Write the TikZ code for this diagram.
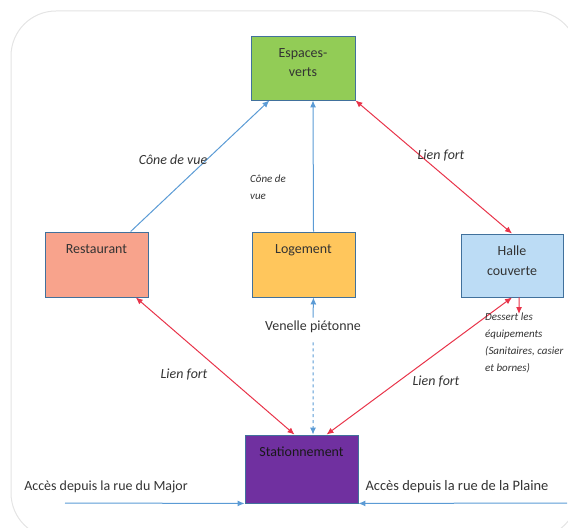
\documentclass[tikz,border=0pt]{standalone}
\usepackage{fontspec}
\setmainfont{Carlito}
\usetikzlibrary{arrows.meta}
\definecolor{vert}{RGB}{146,204,86}
\definecolor{saumon}{RGB}{248,163,140}
\definecolor{orange}{RGB}{255,198,92}
\definecolor{ciel}{RGB}{188,220,245}
\definecolor{violet}{RGB}{112,48,160}
\definecolor{bordure}{RGB}{65,113,156}
\definecolor{rouge}{RGB}{232,52,74}
\definecolor{bleu}{RGB}{91,155,213}
\definecolor{cadre}{RGB}{228,228,228}
\begin{document}
\begin{tikzpicture}[x=1bp,y=-1bp,>={Latex[length=7bp,width=6bp]},
  every node/.style={text=black!80},
  boite/.style={draw=bordure, line width=0.9bp, minimum width=104bp, minimum height=64bp, inner sep=0pt},
  titre/.style={anchor=north, align=center, yshift=-9bp, font=\fontsize{14}{20}\selectfont},
  texte/.style={font=\fontsize{14}{16}\selectfont},
  note/.style={font=\fontsize{14}{16}\selectfont\itshape},
  petit/.style={font=\fontsize{11}{17}\selectfont\itshape, align=left, anchor=north west, inner sep=0pt},
  lien/.style={<->, draw=rouge, line width=1bp},
  vue/.style={->, draw=bleu, line width=1bp}]
\useasboundingbox (0,0) rectangle (568,528);
\draw[cadre, line width=1bp, rounded corners=45bp] (11,11) rectangle (578,538);
% les espaces
\node[boite, fill=vert, minimum height=64bp, label={[titre]north:Espaces-\\verts}] (ev) at (303,68) {};
\node[boite, fill=saumon, minimum width=103bp, minimum height=65bp, label={[titre]north:Restaurant}] (resto) at (96.5,264.5) {};
\node[boite, fill=orange, minimum width=103bp, minimum height=65bp, label={[titre]north:Logement}] (loge) at (303.5,264.5) {};
\node[boite, fill=ciel, minimum width=102bp, minimum height=63bp, label={[titre]north:Halle\\couverte}] (halle) at (512,265.5) {};
\node[boite, fill=violet, minimum width=113bp, minimum height=68bp, label={[titre, text=black!90]north:Stationnement}] (stat) at (301.5,469) {};
% liaisons
\draw[vue] (resto.44) -- (ev.224);
\draw[vue] ([xshift=10bp]loge.north) -- ([xshift=10bp]ev.south);
\draw[lien] (ev.south east) -- (halle.north);
\draw[lien] (resto.-40) -- ([xshift=-7bp]stat.north);
\draw[lien] (halle.south) -- ([xshift=25bp]stat.north);
\node[texte] (venelle) at (313,327) {Venelle piétonne};
\draw[vue] (venelle.north) -- ([xshift=10bp]loge.south);
\draw[vue, dashed] ([yshift=-6bp]venelle.south) -- ([xshift=11.5bp]stat.north);
\coordinate (dessert) at (519,314);
\draw[->, rouge, line width=1bp] ([xshift=7bp]halle.south) -- (dessert);
\node[petit] (equip) at (485,313) {Dessert les\\équipements\\(Sanitaires, casier\\et bornes)};
% etiquettes
\node[note] (vue1) at (173,160) {Cône de vue};
\node[petit] (vue2) at (250,175) {Cône de\\vue};
\node[note] (fort1) at (441,156) {Lien fort};
\node[note] (fort2) at (184,375) {Lien fort};
\node[note] (fort3) at (436,382) {Lien fort};
% acces
\node[texte] (major) at (106,487) {Accès depuis la rue du Major};
\node[texte, font=\fontsize{14.5}{16}\selectfont] (plaine) at (457,487) {Accès depuis la rue de la Plaine};
\coordinate (ouest) at (65,503);
\coordinate (est) at (567,503);
\draw[vue] (ouest) -- (stat.south west);
\draw[vue] (est) -- (stat.south east);
\end{tikzpicture}
\end{document}
